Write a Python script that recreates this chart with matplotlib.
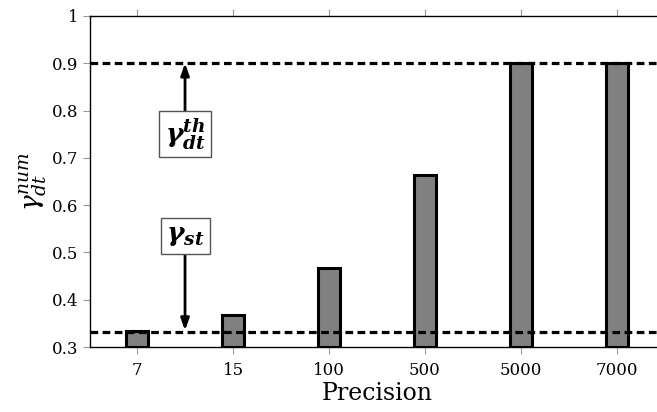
import matplotlib
matplotlib.use("Agg")
import matplotlib.pyplot as plt

categories = ["7", "15", "100", "500", "5000", "7000"]
values = [0.333, 0.368, 0.468, 0.664, 0.9, 0.9]
gamma_th = 0.9
gamma_st = 0.332
yticks = [0.3, 0.4, 0.5, 0.6, 0.7, 0.8, 0.9, 1.0]
yticklabels = ["0.3", "0.4", "0.5", "0.6", "0.7", "0.8", "0.9", "1"]

plt.rcParams['font.family'] = ['DejaVu Serif']
plt.rcParams['mathtext.fontset'] = 'custom'
plt.rcParams['mathtext.rm'] = 'DejaVu Serif'
plt.rcParams['mathtext.it'] = 'DejaVu Serif:italic'
plt.rcParams['mathtext.bf'] = 'DejaVu Serif:bold:italic'

fig = plt.figure(figsize=(6.57, 4.12), dpi=100)
ax = fig.add_axes([90/657, 65/412, (664-90)/657, (347-16)/412])

x = list(range(len(categories)))
ax.bar(x, [v - 0.3 for v in values], bottom=0.3, width=0.22, color='#808080',
       edgecolor='black', linewidth=2.2, zorder=2)
ax.axhline(gamma_th, color='black', lw=2.3, linestyle=(0, (2.4, 1.4)), zorder=3)
ax.axhline(gamma_st, color='black', lw=2.3, linestyle=(0, (2.4, 1.4)), zorder=3)

ax.set_xlim(-0.49, 5.49)
ax.set_ylim(0.3, 1.0)
ax.set_xticks(x)
ax.set_xticklabels(categories)
ax.set_yticks(yticks)
ax.set_yticklabels(yticklabels)
ax.tick_params(axis='both', labelsize=12, color='#999999', length=5, width=0.8,
               direction='out')
ax.tick_params(axis='x', top=True, pad=6)
for s in ax.spines.values():
    s.set_linewidth(1.0)

ax.set_xlabel("Precision", fontsize=17, labelpad=2)
ax.set_ylabel(r"$\gamma_{dt}^{num}$", fontsize=19, labelpad=2)

# annotations
ax.annotate("", xy=(0.5, gamma_th), xytext=(0.5, 0.8),
            arrowprops=dict(arrowstyle='-|>,head_length=0.7,head_width=0.25',
                            color='black', lw=2, shrinkA=0, shrinkB=0), zorder=4)
ax.annotate("", xy=(0.5, gamma_st + 0.003), xytext=(0.5, 0.5),
            arrowprops=dict(arrowstyle='-|>,head_length=0.7,head_width=0.25',
                            color='black', lw=2, shrinkA=0, shrinkB=0), zorder=4)
ax.text(0.5, 0.75, r"$\mathbf{\gamma^{th}_{dt}}$", fontsize=19, ha='center', va='center',
        bbox=dict(boxstyle='square,pad=0.2', fc='white', ec='#555555', lw=1), zorder=5)
ax.text(0.5, 0.535, r"$\mathbf{\gamma_{st}}$", fontsize=19, ha='center', va='center',
        bbox=dict(boxstyle='square,pad=0.2', fc='white', ec='#555555', lw=1), zorder=5)

fig.savefig("out.png", dpi=100)
